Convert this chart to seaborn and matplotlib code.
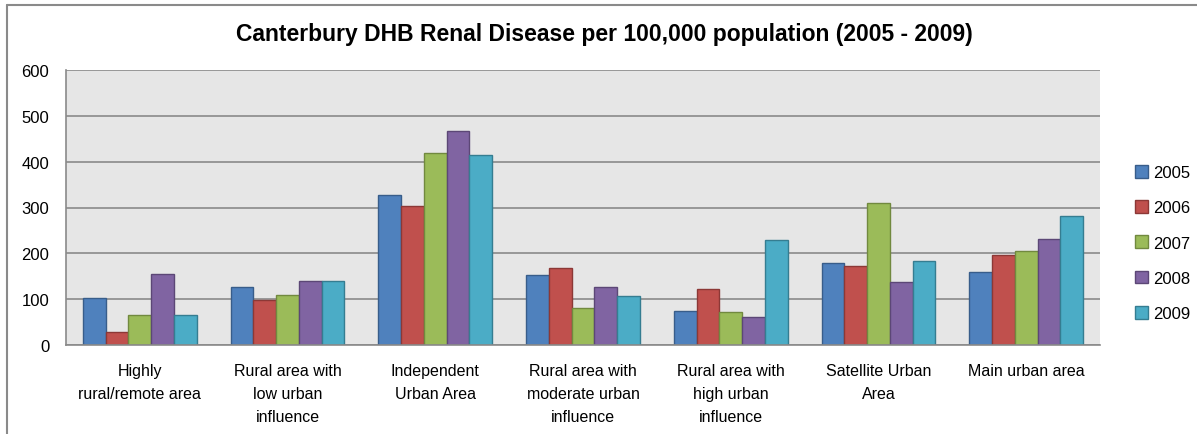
import numpy as np
import pandas as pd
import seaborn as sns
import matplotlib.pyplot as plt
from matplotlib.patches import Patch

# values (per 100,000 population)
areas = ['Highly\nrural/remote area', 'Rural area with\nlow urban\ninfluence',
         'Independent\nUrban Area', 'Rural area with\nmoderate urban\ninfluence',
         'Rural area with\nhigh urban\ninfluence', 'Satellite Urban\nArea',
         'Main urban area']
years = ['2005', '2006', '2007', '2008', '2009']
y2005 = [103, 127, 327, 152, 75, 178, 159]
y2006 = [28, 98, 303, 169, 122, 172, 197]
y2007 = [65, 109, 418, 81, 72, 309, 206]
y2008 = [156, 140, 468, 127, 62, 138, 231]
y2009 = [65, 140, 414, 106, 230, 184, 281]
colors = ['#4F81BD', '#C0504D', '#9BBB59', '#8064A2', '#4BACC6']
edges = ['#385D8A', '#8C3836', '#71893F', '#5C4776', '#357D91']

df = pd.DataFrame({'area': areas, '2005': y2005, '2006': y2006, '2007': y2007,
                   '2008': y2008, '2009': y2009})
df = df.melt(id_vars='area', var_name='year', value_name='rate')

sns.set_style('white')
plt.rcParams['font.family'] = ['Liberation Sans', 'DejaVu Sans']
plt.rcParams['text.color'] = 'black'
plt.rcParams['xtick.color'] = 'black'
plt.rcParams['ytick.color'] = 'black'

fig = plt.figure(figsize=(11.97, 4.35), dpi=100)
ax = fig.add_axes([66/1197, 1-346/435, (1100-66)/1197, (346-71)/435])
ax.set_facecolor('#E6E6E6')

sns.barplot(data=df, x='area', y='rate', hue='year', hue_order=years,
            palette=colors, width=0.77, gap=0, ax=ax, legend=False,
            saturation=1)
for i, cont in enumerate(ax.containers):
    for b in cont:
        b.set_edgecolor(edges[i])
        b.set_linewidth(1)

ax.set_ylim(0, 600)
ax.set_xlim(-0.5, len(areas) - 0.5)
ax.set_yticks(range(0, 601, 100))
ax.yaxis.grid(True, color='#8A8A8A', linewidth=1.2)
ax.set_axisbelow(True)
ax.set_xlabel('')
ax.set_ylabel('')
for s in ['top', 'right']:
    ax.spines[s].set_visible(False)
for s in ['left', 'bottom']:
    ax.spines[s].set_color('#8A8A8A')
    ax.spines[s].set_linewidth(1.2)

ax.tick_params(axis='y', length=5, color='#8A8A8A', labelcolor='black', labelsize=12, pad=7)
ax.set_xticks(range(len(areas)))
ax.set_xticklabels(areas, fontsize=11.5, linespacing=1.65)
ax.tick_params(axis='x', length=0, pad=13, labelcolor='black')
ax.set_xticks(np.arange(-0.5, len(areas), 1), minor=True)
ax.tick_params(axis='x', which='minor', length=5, color='#8A8A8A', width=1.2)

fig.text(0.505, 1-35/435, 'Canterbury DHB Renal Disease per 100,000 population (2005 - 2009)',
         ha='center', va='center', fontsize=16.5, fontweight='bold', color='black')

handles = [Patch(facecolor=c, edgecolor=e, label=y) for c, e, y in zip(colors, edges, years)]
fig.legend(handles=handles, loc='center left', bbox_to_anchor=(1120/1197, 1-244/435),
           frameon=False, fontsize=12, handlelength=0.8, handleheight=0.8,
           handletextpad=0.3, labelspacing=1.2, labelcolor='black')

# chart border (top and left visible)
fig.add_artist(plt.Line2D([7/1197, 1], [1-6/435, 1-6/435], color='#8A8A8A', linewidth=1.5))
fig.add_artist(plt.Line2D([7/1197, 7/1197], [0, 1-6/435], color='#8A8A8A', linewidth=1.5))

fig.savefig('out.png', dpi=100)
